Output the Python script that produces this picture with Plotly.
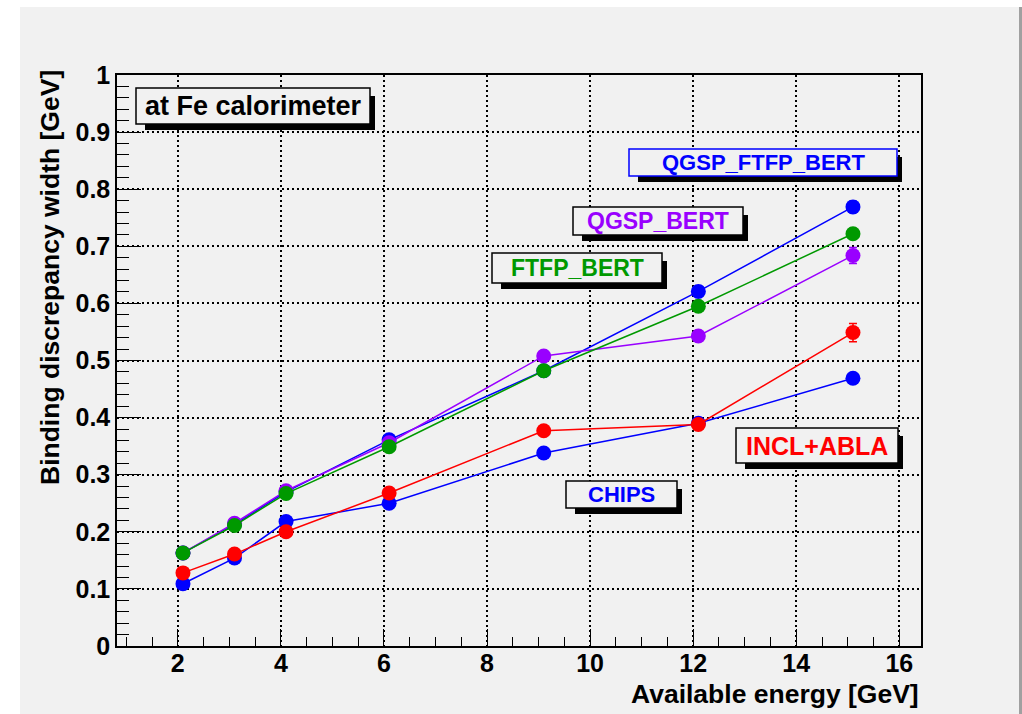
import plotly.graph_objects as go

# ---------------- data ----------------
energy = [2.1, 3.1, 4.1, 6.1, 9.1, 12.1, 15.1]

chips = [0.109, 0.154, 0.218, 0.250, 0.338, 0.390, 0.469]
chips_err = [0.003, 0.003, 0.003, 0.003, 0.004, 0.004, 0.006]

qgsp_ftfp_bert = [0.163, 0.213, 0.270, 0.361, 0.482, 0.621, 0.769]
qgsp_ftfp_bert_err = [0.003, 0.003, 0.003, 0.004, 0.005, 0.006, 0.010]

qgsp_bert = [0.163, 0.215, 0.272, 0.356, 0.508, 0.543, 0.684]
qgsp_bert_err = [0.003, 0.003, 0.003, 0.004, 0.005, 0.006, 0.014]

ftfp_bert = [0.163, 0.211, 0.267, 0.349, 0.482, 0.595, 0.722]
ftfp_bert_err = [0.003, 0.003, 0.003, 0.004, 0.005, 0.006, 0.009]

incl_abla = [0.128, 0.161, 0.200, 0.268, 0.377, 0.388, 0.549]
incl_abla_err = [0.003, 0.003, 0.003, 0.004, 0.005, 0.006, 0.016]

series_names = ["CHIPS", "QGSP_FTFP_BERT", "QGSP_BERT", "FTFP_BERT", "INCL+ABLA"]
series_values = [chips, qgsp_ftfp_bert, qgsp_bert, ftfp_bert, incl_abla]
series_errors = [chips_err, qgsp_ftfp_bert_err, qgsp_bert_err, ftfp_bert_err, incl_abla_err]
series_colors = ["#0000ff", "#0000ff", "#9900ff", "#009900", "#ff0000"]

x_title = "Available energy [GeV]"
y_title = "Binding discrepancy width [GeV]"
header_text = "at Fe calorimeter"

# ---------------- layout geometry ----------------
W_PX, H_PX = 1022, 714
L, R, T, B = 117, 921, 75, 646  # plot-area pixel edges
BG = "#f1f1f1"
FONT = "Liberation Sans, Arial, Helvetica, sans-serif"


def px(x):
    return (x - L) / (R - L)


def py(y):
    return (B - y) / (B - T)


fig = go.Figure()

for name, vals, errs, col in zip(series_names, series_values, series_errors, series_colors):
    fig.add_trace(go.Scatter(
        x=energy, y=vals, name=name, mode="lines+markers",
        line=dict(color=col, width=1.5),
        marker=dict(color=col, size=15, symbol="circle"),
        error_y=dict(type="data", array=errs, visible=True, color=col,
                     thickness=1.5, width=4),
        showlegend=False,
    ))

shapes = []
annotations = []

# canvas background (grey) with white strips left/top and dark right edge
shapes.append(dict(type="rect", xref="paper", yref="paper", layer="below",
                   x0=px(20), x1=px(1019), y0=py(714), y1=py(7),
                   fillcolor=BG, line=dict(width=0)))
shapes.append(dict(type="rect", xref="paper", yref="paper", layer="below",
                   x0=px(1019), x1=px(1022), y0=py(714), y1=py(7),
                   fillcolor="#a0a0a0", line=dict(width=0)))

# labelled boxes: (text, x0, y0, x1, y1, text colour, border colour, font size)
boxes = [
    (header_text, 136, 88, 370, 124, "#000000", "#000000", 27),
    ("QGSP_FTFP_BERT", 629, 149, 897, 176, "#0000ff", "#0000ff", 22),
    ("QGSP_BERT", 573, 207, 743, 235, "#9900ff", "#000000", 23),
    ("FTFP_BERT", 492, 253, 662, 283, "#009900", "#000000", 23),
    ("INCL+ABLA", 736, 428, 898, 463, "#ff0000", "#000000", 25),
    ("CHIPS", 566, 481, 677, 508, "#0000ff", "#000000", 22),
]
for text, x0, y0, x1, y1, tcol, bcol, fs in boxes:
    shapes.append(dict(type="rect", xref="paper", yref="paper", layer="above",
                       x0=px(x0 + 9), x1=px(x1 + 5), y0=py(y1 + 6), y1=py(y0 + 8),
                       fillcolor="#000000", line=dict(width=0)))
    shapes.append(dict(type="rect", xref="paper", yref="paper", layer="above",
                       x0=px(x0), x1=px(x1), y0=py(y1), y1=py(y0),
                       fillcolor=BG, line=dict(color=bcol, width=1.5)))
    annotations.append(dict(text=text, xref="paper", yref="paper",
                            x=px((x0 + x1) / 2), y=py((y0 + y1) / 2),
                            xanchor="center", yanchor="middle", showarrow=False,
                            font=dict(family=FONT, size=fs, color=tcol, weight="bold")))

# axis titles
annotations.append(dict(text=x_title, xref="paper", yref="paper",
                        x=1.0, y=py(694), xanchor="right", yanchor="middle",
                        showarrow=False,
                        font=dict(family=FONT, size=26.5, color="#000000", weight="bold")))
annotations.append(dict(text=y_title, xref="paper", yref="paper", textangle=-90,
                        x=px(50), y=py(278), xanchor="center", yanchor="middle",
                        showarrow=False,
                        font=dict(family=FONT, size=26.5, color="#000000", weight="bold")))

fig.update_layout(
    width=W_PX, height=H_PX,
    margin=dict(l=L, r=W_PX - R, t=T, b=H_PX - B, pad=0),
    paper_bgcolor="#ffffff", plot_bgcolor=BG,
    shapes=shapes, annotations=annotations,
    showlegend=False,
)

fig.update_xaxes(
    range=[0.82, 16.42], tickmode="linear", tick0=0, dtick=2,
    ticks="inside", ticklen=17, tickwidth=1.2, tickcolor="#000000",
    minor=dict(ticks="inside", ticklen=9, dtick=0.5, tickwidth=1, tickcolor="#000000",
               showgrid=False),
    showgrid=True, gridcolor="#000000", gridwidth=1.5, griddash="2px,3px",
    showline=True, linecolor="#000000", linewidth=1.5, mirror=True,
    zeroline=False, ticklabelstandoff=-6,
    tickfont=dict(family=FONT, size=25, color="#000000", weight="bold"),
)
fig.update_yaxes(
    range=[0, 1], tickmode="linear", tick0=0, dtick=0.1,
    ticks="inside", ticklen=24, tickwidth=1.2, tickcolor="#000000",
    minor=dict(ticks="inside", ticklen=12, dtick=0.02, tickwidth=1, tickcolor="#000000",
               showgrid=False),
    showgrid=True, gridcolor="#000000", gridwidth=1.5, griddash="2px,3px",
    showline=True, linecolor="#000000", linewidth=1.5, mirror=True,
    zeroline=False,
    tickfont=dict(family=FONT, size=25, color="#000000", weight="bold"),
)

fig.write_html("out.html")
